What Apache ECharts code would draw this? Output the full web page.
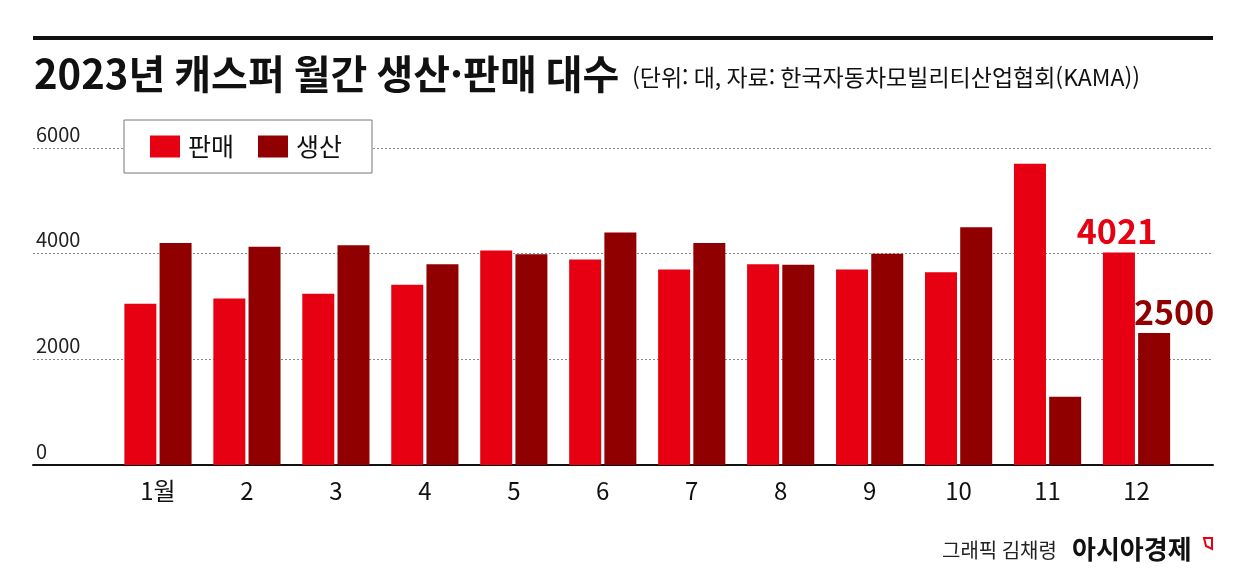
<!DOCTYPE html>
<html lang="ko">
<head>
<meta charset="UTF-8">
<title>2023년 캐스퍼 월간 생산·판매 대수</title>
<script src="https://cdn.jsdelivr.net/npm/echarts@6/dist/echarts.min.js"></script>
<style>
  html, body { margin: 0; padding: 0; background: #fff; }
  #chart { width: 1246px; height: 585px; }
</style>
</head>
<body>
<div id="chart"></div>
<script>
  var months = ['1월', '2', '3', '4', '5', '6', '7', '8', '9', '10', '11', '12'];
  var sales = [3050, 3150, 3240, 3410, 4060, 3890, 3700, 3800, 3700, 3650, 5700, 4021];
  var production = [4200, 4130, 4160, 3800, 3990, 4400, 4200, 3790, 4000, 4500, 1290, 2500];
  var yTicks = [0, 2000, 4000, 6000];

  var RED = '#e60012';
  var DARK = '#900000';
  var KR = '"Noto Sans CJK KR", sans-serif';

  // only the last month gets a value label
  function withLastLabel(arr, color, offset) {
    return arr.map(function (v, i) {
      if (i !== arr.length - 1) return v;
      return {
        value: v,
        label: {
          show: true, position: 'top', distance: 4, offset: offset,
          color: color, fontSize: 34, fontWeight: 'bold', fontFamily: KR
        }
      };
    });
  }

  var chart = echarts.init(document.getElementById('chart'));
  chart.setOption({
    backgroundColor: '#fff',
    animation: false,
    title: [{
      text: '2023년 캐스퍼 월간 생산·판매 대수',
      left: 34, top: 54, padding: 0,
      textStyle: { fontFamily: KR, fontSize: 40, fontWeight: 'bold', color: '#111' }
    }, {
      text: '(단위: 대, 자료: 한국자동차모빌리티산업협회(KAMA))',
      left: 632, top: 66, padding: 0,
      textStyle: { fontFamily: KR, fontSize: 23, fontWeight: 'normal', color: '#111' }
    }],
    legend: {
      left: 124, top: 120,
      padding: [14, 30, 14, 26],
      itemGap: 24, itemWidth: 30, itemHeight: 22,
      backgroundColor: '#fff', borderColor: '#777', borderWidth: 1,
      icon: 'rect',
      textStyle: { fontFamily: KR, fontSize: 25, color: '#111', padding: [0, 0, 0, 3] },
      data: ['판매', '생산']
    },
    grid: [
      { left: 33, right: 33, top: 148, bottom: 120 },
      { left: 113.5, right: 65, top: 148, bottom: 120 }
    ],
    xAxis: [{
      type: 'category', gridIndex: 0, data: months,
      axisLine: { lineStyle: { color: '#111', width: 2 } },
      axisTick: { show: false }, axisLabel: { show: false }
    }, {
      type: 'category', gridIndex: 1, data: months,
      axisLine: { show: false }, axisTick: { show: false },
      axisLabel: { margin: 14, fontFamily: KR, fontSize: 24, color: '#111' }
    }],
    yAxis: [{
      type: 'value', gridIndex: 0,
      min: yTicks[0], max: yTicks[yTicks.length - 1], interval: 2000,
      axisLine: { show: false }, axisTick: { show: false },
      splitLine: { lineStyle: { color: '#888', type: [2, 2], width: 1 } },
      axisLabel: {
        inside: true, margin: 3, verticalAlign: 'bottom', padding: [0, 0, 4, 0],
        formatter: function (v) { return String(v); },
        fontFamily: KR, fontSize: 20, color: '#222'
      }
    }, {
      type: 'value', gridIndex: 1,
      min: yTicks[0], max: yTicks[yTicks.length - 1], interval: 2000,
      show: false, splitLine: { show: false }
    }],
    series: [{
      name: '판매', type: 'bar', xAxisIndex: 1, yAxisIndex: 1,
      barWidth: 32, barGap: '10%',
      itemStyle: { color: RED },
      data: withLastLabel(sales, RED, [-2, 0])
    }, {
      name: '생산', type: 'bar', xAxisIndex: 1, yAxisIndex: 1,
      barWidth: 32, barGap: '10%',
      itemStyle: { color: DARK },
      data: withLastLabel(production, DARK, [20, 0])
    }],
    graphic: [
      { type: 'rect', shape: { x: 33, y: 36, width: 1180, height: 4 }, style: { fill: '#111' } },
      { type: 'text', x: 942, y: 540, style: { text: '그래픽 김채령', font: '20px ' + KR, fill: '#222' } },
      { type: 'text', x: 1072, y: 536, style: { text: '아시아경제', font: 'bold 26px ' + KR, fill: '#111' } },
      { type: 'polygon', shape: { points: [[1204, 538], [1212, 538], [1212, 549], [1206, 546]] },
        style: { fill: 'none', stroke: RED, lineWidth: 2 } }
    ]
  });
</script>
</body>
</html>
